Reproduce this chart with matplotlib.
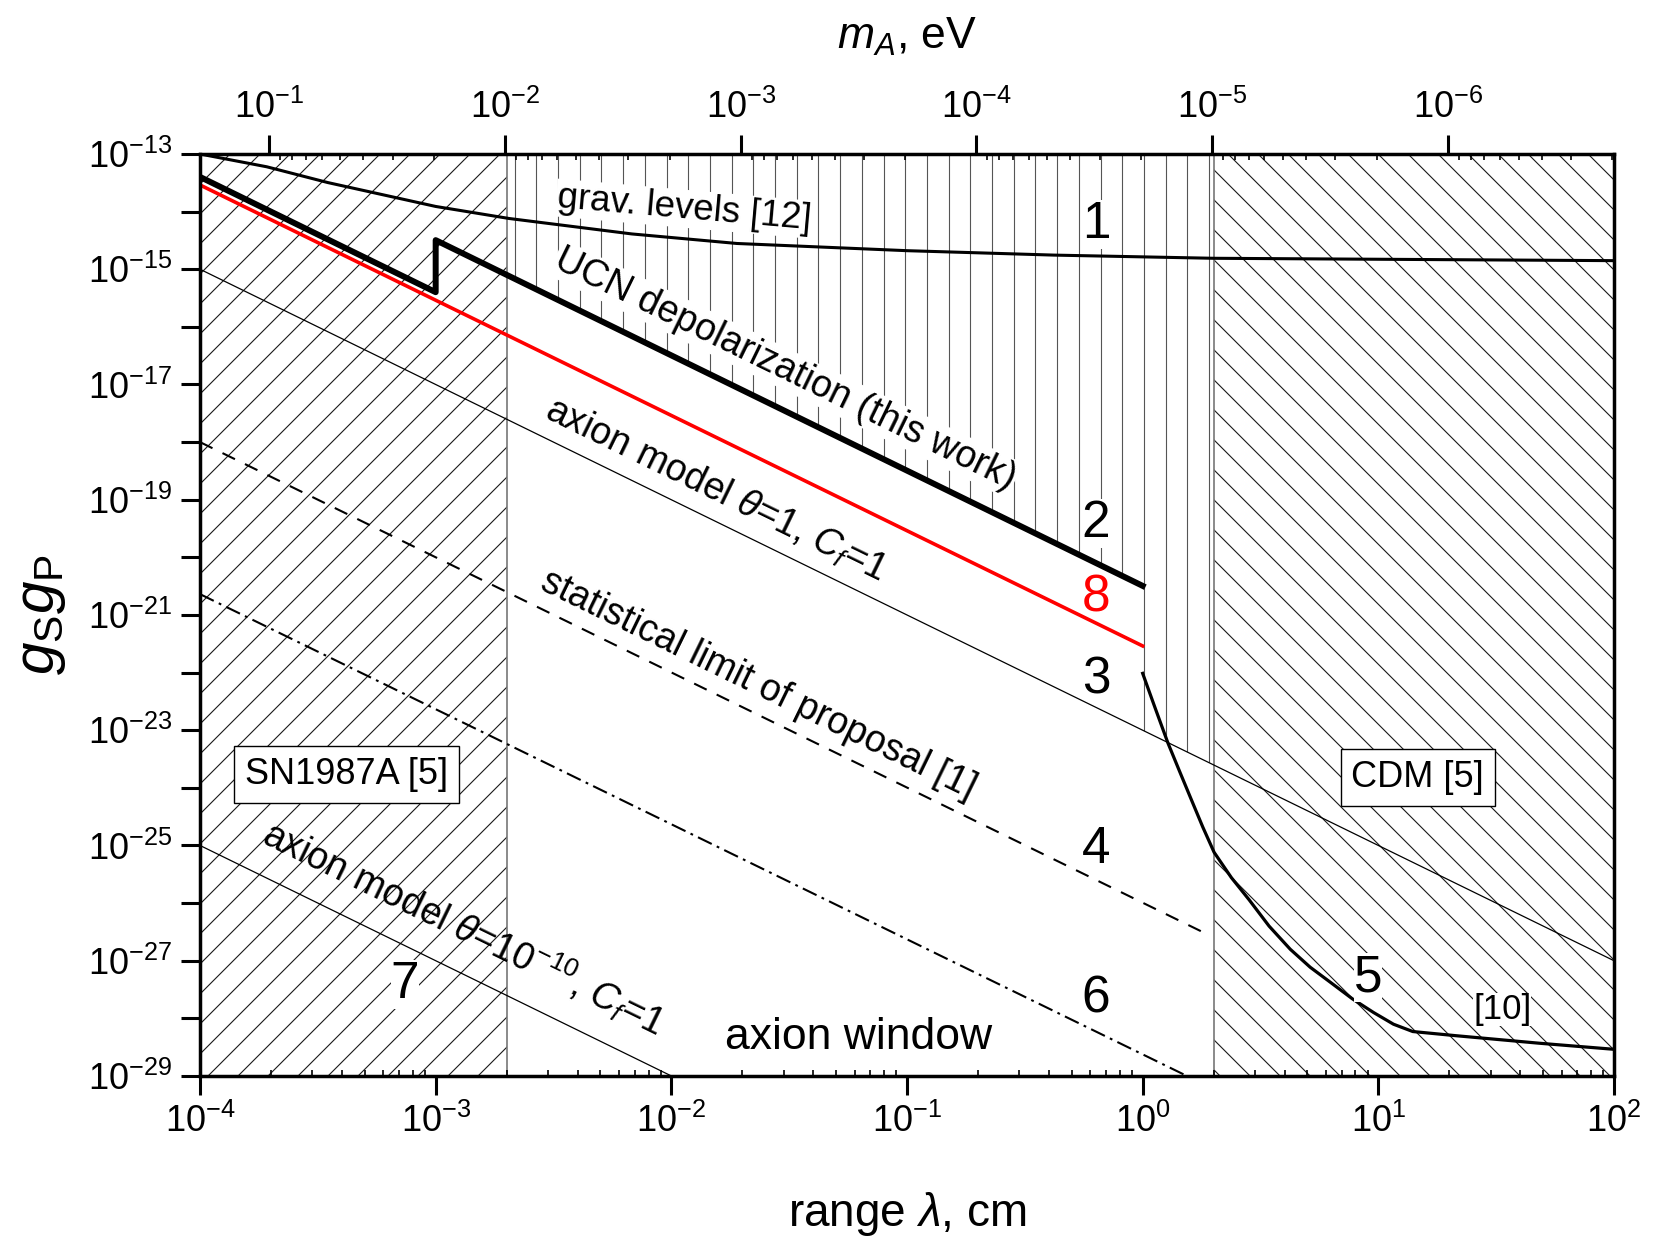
# Exclusion plot for the spin-dependent coupling g_S g_P vs range lambda
import numpy as np
import matplotlib
matplotlib.use('Agg')
import matplotlib.pyplot as plt
from matplotlib.collections import LineCollection
from matplotlib.patches import Polygon
from matplotlib.ticker import FuncFormatter, NullFormatter, LogLocator

plt.rcParams['font.family'] = ['Liberation Sans', 'DejaVu Sans']
plt.rcParams['mathtext.fontset'] = 'custom'
plt.rcParams['mathtext.rm'] = 'Liberation Sans'
plt.rcParams['mathtext.it'] = 'Liberation Sans:italic'
plt.rcParams['mathtext.bf'] = 'Liberation Sans:bold'
plt.rcParams['lines.scale_dashes'] = False

# --- DATA ---
HC = 1.97e-5      # hbar*c, eV*cm  (m_A = HC / lambda)

x_lim = [1e-4, 1e2]
y_lim = [1e-29, 1e-13]
sn_edge = 2e-3    # SN1987A limit / 10^-2 eV
cdm_edge = 2.0    # CDM limit / 10^-5 eV

# 1 - gravitational levels [12]
grav_x = [1e-4, 1.92e-4, 3.48e-4, 1e-3, 2.05e-3, 6.8e-3, 1.9e-2, 0.1, 0.42, 2.0, 100.0]
grav_y = [1e-13, 6.0e-14, 3.2e-14, 1.23e-14, 7.6e-15, 4.1e-15, 2.8e-15,
          2.1e-15, 1.76e-15, 1.55e-15, 1.41e-15]

# 2 - UCN depolarization (this work)
ucn_x = [1e-4, 1e-3, 1e-3, 1.0]
ucn_y = [4.0e-14, 4.0e-16, 3.2e-15, 3.2e-21]

# 8 - red curve
red_x = [1e-4, 1.0]
red_y = [2.9e-14, 2.9e-22]

# 3 - axion model theta=1, Cf=1
ax1_x = [1e-4, 100.0]
ax1_y = [1e-15, 1e-27]

# 4 - statistical limit of proposal [1]
stat_x = [1e-4, 1.84]
stat_y = [1e-18, 3.0e-27]

# 6 - dash-dot
dd_x = [1e-4, 1.54]
dd_y = [2.3e-21, 1e-29]

# 7 - axion model theta=1e-10, Cf=1
ax10_x = [1e-4, 1e-2]
ax10_y = [1e-25, 1e-29]

# 5 - [10]
c5_x = [1.0, 1.13, 1.28, 1.44, 1.61, 1.80, 2.01, 2.38, 2.83, 3.44, 4.23, 5.14,
        6.32, 7.76, 9.55, 11.6, 14.0, 21.3, 48.1, 100.0]
c5_y = [9.7e-23, 2.42e-23, 6.0e-24, 1.86e-24, 6.2e-25, 2.08e-25, 7.6e-26,
        2.76e-26, 1.14e-26, 3.98e-27, 1.58e-27, 7.7e-28, 4.1e-28, 2.18e-28,
        1.26e-28, 7.9e-29, 5.9e-29, 5.0e-29, 3.7e-29, 2.9e-29]

top_ticks = [1e-1, 1e-2, 1e-3, 1e-4, 1e-5, 1e-6]
y_major = [10.0**p for p in range(-29, -12, 2)]
y_minor = [10.0**p for p in range(-28, -13, 2)]


def loginterp(x, xs, ys):
    return 10**np.interp(np.log10(x), np.log10(xs), np.log10(ys))


def add_hatch(ax, verts, kind, step, color='#1a1a1a', lw=0.8):
    # parallel lines in axes pixel space, clipped to a data-space polygon
    clip = Polygon(verts, closed=True, transform=ax.transData,
                   facecolor='none', edgecolor='none')
    ax.add_patch(clip)
    bb = ax.get_window_extent()
    w, h = bb.width, bb.height
    segs = []
    if kind == '|':
        for c in np.arange(step / 2, w, step):
            segs.append([(c / w, 0), (c / w, 1)])
    elif kind == '/':
        # rising to the right
        for c in np.arange(-h, w, step):
            segs.append([(c / w, 0.0), ((c + h) / w, 1.0)])
    else:
        # falling to the right
        for c in np.arange(0, w + h, step):
            segs.append([((c - h) / w, 1.0), (c / w, 0.0)])
    lc = LineCollection(segs, transform=ax.transAxes, colors=color,
                        linewidths=lw, zorder=1)
    ax.add_collection(lc, autolim=False)
    lc.set_clip_path(clip)


fig = plt.figure(figsize=(16.53, 12.39), dpi=100)
ax = fig.add_axes([0.121, 0.1316, 0.8554, 0.7441])
ax.set_xscale('log')
ax.set_yscale('log')
ax.set_xlim(x_lim)
ax.set_ylim(y_lim)

# --- HATCHED REGIONS ---
lo, hi = 1e-31, 1e-11
add_hatch(ax, [(x_lim[0], lo), (sn_edge, lo), (sn_edge, hi), (x_lim[0], hi)], '/', 30)
add_hatch(ax, [(cdm_edge, lo), (x_lim[1], lo), (x_lim[1], hi), (cdm_edge, hi)], '\\', 30)
ucn_end = ucn_x[-1]
v_verts = [(sn_edge, loginterp(sn_edge, ucn_x[2:], ucn_y[2:])),
           (ucn_end, ucn_y[-1]),
           (ucn_end, loginterp(ucn_end, ax1_x, ax1_y)),
           (cdm_edge, loginterp(cdm_edge, ax1_x, ax1_y)),
           (cdm_edge, hi), (sn_edge, hi)]
add_hatch(ax, v_verts, '|', 21.7, color='#555555', lw=0.8)

ax.axvline(sn_edge, color='#777777', lw=1.2, zorder=1.5)
ax.axvline(cdm_edge, color='#777777', lw=1.2, zorder=1.5)

# --- CURVES ---
ax.plot(grav_x, grav_y, color='black', lw=2.2, zorder=3)
ax.plot(red_x, red_y, color='red', lw=2.6, zorder=3)
ax.plot(ucn_x, ucn_y, color='black', lw=4.3, zorder=3.5)
ax.plot(ax1_x, ax1_y, color='black', lw=0.9, zorder=3)
ax.plot(stat_x, stat_y, color='black', lw=1.5, ls=(0, (10, 8)), zorder=3)
ax.plot(dd_x, dd_y, color='black', lw=1.5, ls=(0, (11, 4, 2, 4)), zorder=3)
ax.plot(ax10_x, ax10_y, color='black', lw=0.9, zorder=3)
ax.plot(c5_x, c5_y, color='black', lw=2.3, zorder=3)

# --- LABELS ON THE PLOT ---
wbox = dict(facecolor='white', edgecolor='none', pad=1)
rot = -26
ax.text(0.0114, 10**-13.95, 'grav. levels [12]', rotation=-5, fontsize=26.5,
        ha='center', va='center', rotation_mode='anchor', bbox=wbox, zorder=4)
ax.text(0.0304, 10**-16.73, 'UCN depolarization (this work)', rotation=rot,
        fontsize=27, ha='center', va='center', rotation_mode='anchor',
        bbox=wbox, zorder=4)
ax.text(0.0155, 10**-18.83, r'axion model $\theta$=1, $C_f$=1', rotation=rot,
        fontsize=27, ha='center', va='center', rotation_mode='anchor', zorder=4)
ax.text(0.0235, 10**-22.21, 'statistical limit of proposal [1]', rotation=rot,
        fontsize=27, ha='center', va='center', rotation_mode='anchor', zorder=4)
ax.text(1.32e-3, 10**-26.42, r'axion model $\theta$=10$^{-10}$, $C_f$=1',
        rotation=rot, fontsize=27, ha='center', va='center',
        rotation_mode='anchor', zorder=4)

num_kw = dict(fontsize=37, ha='center', va='center', zorder=4)
nbox = dict(facecolor='white', edgecolor='none', pad=0)
ax.text(0.635, 10**-14.22, '1', bbox=nbox, **num_kw)
ax.text(0.635, 10**-19.42, '2', bbox=nbox, **num_kw)
ax.text(0.635, 10**-20.71, '8', color='red', **num_kw)
ax.text(0.635, 10**-22.12, '3', **num_kw)
ax.text(0.635, 10**-25.07, '4', **num_kw)
ax.text(0.635, 10**-27.66, '6', **num_kw)
ax.text(9.06, 10**-27.30, '5', bbox=nbox, **num_kw)
ax.text(7.4e-4, 10**-27.42, '7', bbox=nbox, **num_kw)
ax.text(33.6, 10**-27.84, '[10]', fontsize=25, ha='center', va='center',
        bbox=nbox, zorder=4)
ax.text(0.0625, 10**-28.34, 'axion window', fontsize=32, ha='center',
        va='center', zorder=4)

box = dict(boxstyle='square,pad=0.3', facecolor='white', edgecolor='black', lw=1.0)
ax.text(4.2e-4, 10**-23.77, 'SN1987A [5]', fontsize=26, ha='center',
        va='center', bbox=box, zorder=5)
ax.text(14.7, 10**-23.82, 'CDM [5]', fontsize=26, ha='center',
        va='center', bbox=box, zorder=5)

# --- AXES ---
def pow_fmt(v, pos):
    return r'$10^{%d}$' % round(np.log10(v))

ax.set_xticks([10.0**p for p in range(-4, 3)])
ax.xaxis.set_minor_locator(LogLocator(base=10, subs=np.arange(2, 10)))
ax.xaxis.set_major_formatter(FuncFormatter(pow_fmt))
ax.xaxis.set_minor_formatter(NullFormatter())
ax.set_yticks(y_major)
ax.set_yticks(y_minor, minor=True)
ax.yaxis.set_major_formatter(FuncFormatter(pow_fmt))
ax.yaxis.set_minor_formatter(NullFormatter())

ax.tick_params(axis='x', which='major', direction='out', length=14, width=2.2,
               labelsize=26, pad=6, top=False)
ax.tick_params(axis='x', which='minor', direction='in', length=4, width=1.2, top=False)
ax.tick_params(axis='y', which='both', direction='out', length=14, width=2.2,
               labelsize=26, pad=6, right=False)
for s in ax.spines.values():
    s.set_linewidth(2.5)
    s.set_zorder(6)

ax.set_xlabel(r'range $\lambda$, cm', fontsize=33, labelpad=36)
ax.set_ylabel(r'$g_{\rm S}g_{\rm P}$', fontsize=42, labelpad=14)

# top axis: particle mass m_A = hbar c / lambda
ax2 = ax.twiny()
ax2.set_xscale('log')
ax2.set_xlim(HC / x_lim[0], HC / x_lim[1])
ax2.set_xticks(top_ticks)
ax2.xaxis.set_minor_locator(LogLocator(base=10, subs=np.arange(2, 10)))
ax2.xaxis.set_major_formatter(FuncFormatter(pow_fmt))
ax2.xaxis.set_minor_formatter(NullFormatter())
ax2.tick_params(axis='x', which='major', direction='out', length=14, width=2.2,
                labelsize=26, pad=6)
ax2.tick_params(axis='x', which='minor', direction='in', length=4, width=1.2)
for s in ax2.spines.values():
    s.set_visible(False)
ax2.set_xlabel(r'$m_A$, eV', fontsize=32, labelpad=30)

fig.savefig('out.png', dpi=100)
